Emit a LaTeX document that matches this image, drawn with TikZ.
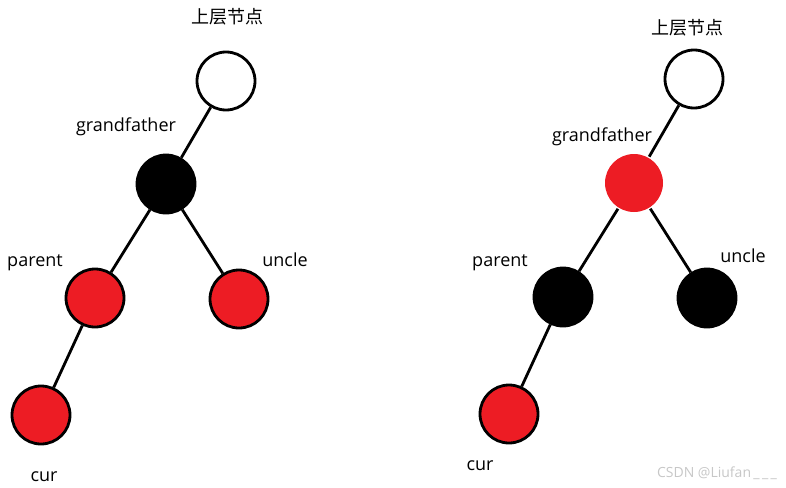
\documentclass[tikz,border=0pt]{standalone}
\usepackage{fontspec}
\setmainfont{Open Sans}
\newfontfamily\cjk{Noto Sans CJK SC}
\usepackage{xcolor}
\usetikzlibrary{positioning}
\definecolor{rbred}{HTML}{ED1C24}

\begin{document}
\begin{tikzpicture}[x=1pt, y=-1pt, every node/.style={font=\fontsize{18}{20}\selectfont, inner sep=0pt},
  rbnode/.style={circle, minimum size=58pt, line width=2.8pt, draw=black},
  whitenode/.style={rbnode, fill=white},
  blacknode/.style={rbnode, fill=black},
  rednode/.style={rbnode, fill=rbred},
  edge/.style={line width=2.8pt}]

\useasboundingbox (0,0) rectangle (786,487);

\node (top1) [whitenode] at (226,81) {};
\node (gf1) [blacknode] at (166,184) {};
\node (par1) [rednode] at (95,298) {};
\node (unc1) [rednode] at (239,299) {};
\node (cur1) [rednode] at (41,415) {};

\node (ttop1) at (227,17) {\cjk 上层节点};
\node (tgf1) at (126,127) {grandfather};
\node (tpar1) at (35,263) {parent};
\node (tunc1) at (285,260) {uncle};
\node (tcur1) at (44,477) {cur};

\node (top2) [whitenode] at (694,79) {};
\node (gf2) [rednode, draw=none] at (634,183) {};
\node (par2) [blacknode] at (563,297) {};
\node (unc2) [blacknode] at (707,298) {};
\node (cur2) [rednode] at (509,414) {};

\node (ttop2) at (687,28) {\cjk 上层节点};
\node (tgf2) at (602,137) {grandfather};
\node (tpar2) at (500,263) {parent};
\node (tunc2) at (743,256) {uncle};
\node (tcur2) at (480,466) {cur};

\node (mark) [font=\fontsize{14}{16}\selectfont, text=black!22] at (717,473) {CSDN @Liufan\,\_\,\_\,\_};

\draw[edge] (top1) -- (gf1);
\draw[edge] (gf1) -- (par1);
\draw[edge] (gf1) -- (unc1);
\draw[edge] (par1) -- (cur1);

\draw[edge] (top2) -- (gf2);
\draw[edge] (gf2) -- (par2);
\draw[edge] (gf2) -- (unc2);
\draw[edge] (par2) -- (cur2);

\end{tikzpicture}
\end{document}
